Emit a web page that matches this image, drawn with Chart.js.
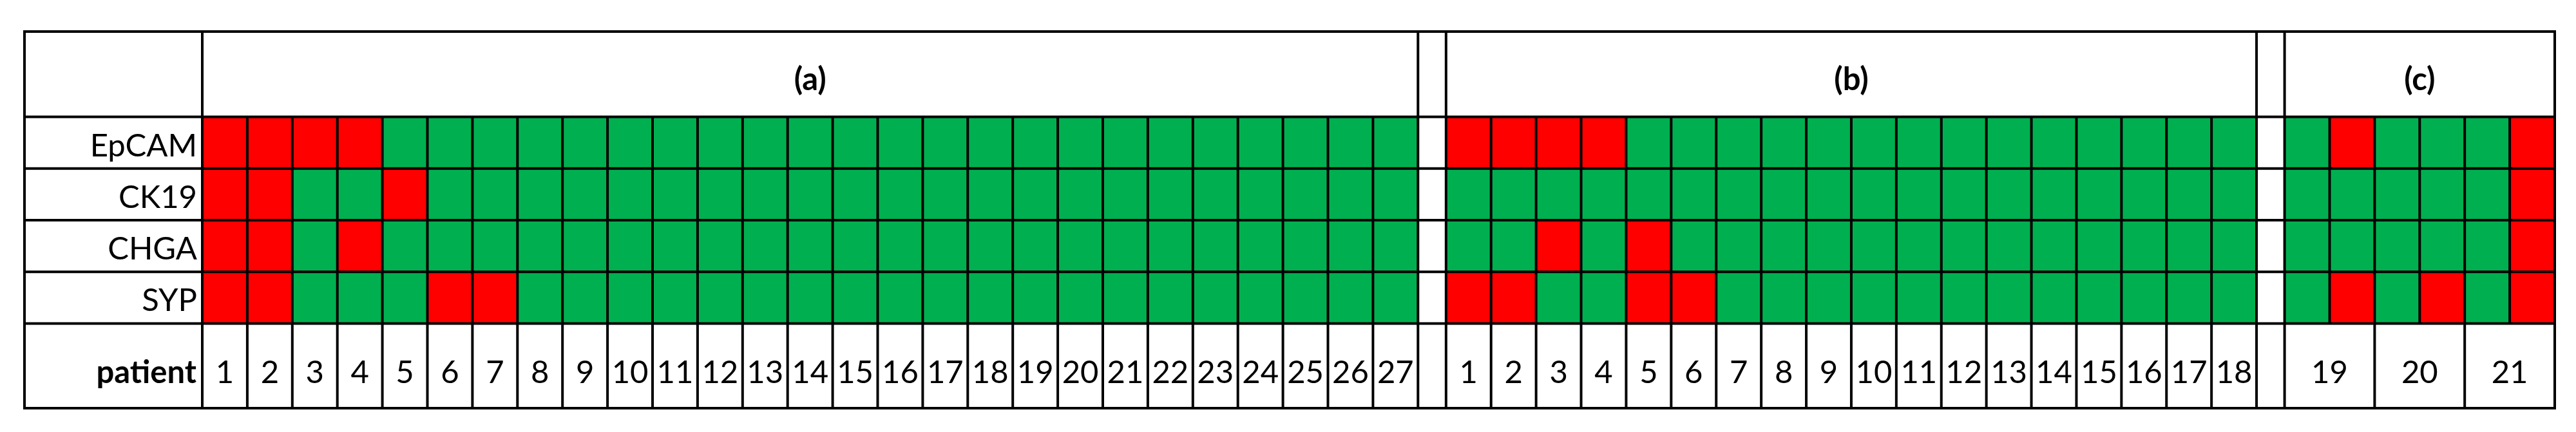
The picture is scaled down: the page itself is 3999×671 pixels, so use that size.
<!DOCTYPE html>
<html><head><meta charset="utf-8">
<script src="https://cdn.jsdelivr.net/npm/chart.js@4.4.1/dist/chart.umd.min.js"></script>
<style>html,body{margin:0;padding:0;background:#fff;overflow:hidden}canvas{display:block}</style>
</head><body>
<canvas id="c" width="3999" height="671"></canvas>
<script>
// ---------- data ----------
const markers = ['EpCAM', 'CK19', 'CHGA', 'SYP'];
const groupLabels = ['(a)', '(b)', '(c)'];
const rowHeaderLabel = 'patient';

const patientsA = [1,2,3,4,5,6,7,8,9,10,11,12,13,14,15,16,17,18,19,20,21,22,23,24,25,26,27];
const patientsB = [1,2,3,4,5,6,7,8,9,10,11,12,13,14,15,16,17,18];
const patientsC = [19,20,21];
const samplesPerPatientA = 1;
const samplesPerPatientB = 1;
const samplesPerPatientC = 2;

// 1 = green cell, 0 = red cell
const epcamA = [0,0,0,0,1,1,1,1,1,1,1,1,1,1,1,1,1,1,1,1,1,1,1,1,1,1,1];
const ck19A  = [0,0,1,1,0,1,1,1,1,1,1,1,1,1,1,1,1,1,1,1,1,1,1,1,1,1,1];
const chgaA  = [0,0,1,0,1,1,1,1,1,1,1,1,1,1,1,1,1,1,1,1,1,1,1,1,1,1,1];
const sypA   = [0,0,1,1,1,0,0,1,1,1,1,1,1,1,1,1,1,1,1,1,1,1,1,1,1,1,1];

const epcamB = [0,0,0,0,1,1,1,1,1,1,1,1,1,1,1,1,1,1];
const ck19B  = [1,1,1,1,1,1,1,1,1,1,1,1,1,1,1,1,1,1];
const chgaB  = [1,1,0,1,0,1,1,1,1,1,1,1,1,1,1,1,1,1];
const sypB   = [0,0,1,1,0,0,1,1,1,1,1,1,1,1,1,1,1,1];

const epcamC = [1,0,1,1,1,0];
const ck19C  = [1,1,1,1,1,0];
const chgaC  = [1,1,1,1,1,0];
const sypC   = [1,0,1,0,1,0];

// ---------- style / layout ----------
const RED = '#FF0000', GREEN = '#00B050';
const LINE = 4;
const GAP = 0.623;              // width of blank separator column (in cell units)
const TABLE_LEFT = 38, TABLE_TOP = 49, TABLE_BOTTOM_MARGIN = 37, RIGHT_MARGIN = 33;
const LABEL_COL = 276, HEADER_H = 132.5, PATIENT_H = 131.5;
const FONT = 'Lato, "Open Sans", sans-serif';
const FS = 49;

// ---------- build ----------
const groups = [
  {label: groupLabels[0], patients: patientsA, span: samplesPerPatientA, status: [epcamA, ck19A, chgaA, sypA]},
  {label: groupLabels[1], patients: patientsB, span: samplesPerPatientB, status: [epcamB, ck19B, chgaB, sypB]},
  {label: groupLabels[2], patients: patientsC, span: samplesPerPatientC, status: [epcamC, ck19C, chgaC, sypC]},
];
let cursor = 0;
groups.forEach((g, i) => {
  g.nCols = g.patients.length * g.span;
  g.start = cursor;
  cursor += g.nCols + (i < groups.length - 1 ? GAP : 0);
});
const totalUnits = cursor;

const datasets = markers.map((m, r) => {
  const data = [];
  groups.forEach(g => {
    for (let j = 0; j < g.nCols; j++) {
      data.push({x: [g.start + j, g.start + j + 1], y: m, s: g.status[r][j]});
    }
  });
  return {
    label: m,
    data,
    backgroundColor: data.map(d => d.s ? GREEN : RED),
    borderWidth: 0,
    barPercentage: 1,
    categoryPercentage: 1,
    grouped: false,
  };
});

const tablePlugin = {
  id: 'table',
  afterDatasetsDraw(chart) {
    const {ctx, chartArea: a, scales: {x, y}} = chart;
    const L = TABLE_LEFT, T = TABLE_TOP, R = a.right, B = a.bottom + PATIENT_H;
    ctx.save();
    ctx.strokeStyle = '#000';
    ctx.lineWidth = LINE;
    const line = (x1, y1, x2, y2) => { ctx.beginPath(); ctx.moveTo(x1, y1); ctx.lineTo(x2, y2); ctx.stroke(); };

    // horizontal row boundaries
    const rowH = (a.bottom - a.top) / markers.length;
    for (let i = 0; i <= markers.length; i++) line(L, a.top + i * rowH, R, a.top + i * rowH);
    // label column boundary
    line(a.left, T, a.left, B);

    ctx.fillStyle = '#000';
    ctx.textBaseline = 'alphabetic';
    groups.forEach(g => {
      const x0 = x.getPixelForValue(g.start), x1 = x.getPixelForValue(g.start + g.nCols);
      line(x0, T, x0, B);
      line(x1, T, x1, B);
      for (let j = 1; j < g.nCols; j++) {
        const xx = x.getPixelForValue(g.start + j);
        line(xx, a.top, xx, (j % g.span === 0) ? B : a.bottom);
      }
      // group header
      ctx.font = `bold ${FS}px ${FONT}`;
      ctx.textAlign = 'center';
      ctx.fillText(g.label, (x0 + x1) / 2, T + 91);
      // patient numbers
      ctx.font = `${FS}px ${FONT}`;
      g.patients.forEach((p, k) => {
        const cx = x.getPixelForValue(g.start + k * g.span + g.span / 2);
        ctx.fillText(String(p), cx, a.bottom + 92.5);
      });
    });

    // marker labels
    ctx.textAlign = 'right';
    ctx.font = `${FS}px ${FONT}`;
    markers.forEach(m => {
      ctx.fillText(m, a.left - 8, y.getPixelForValue(m) + 21);
    });
    ctx.font = `bold ${FS}px ${FONT}`;
    ctx.fillText(rowHeaderLabel, a.left - 9, a.bottom + 92.5);

    ctx.strokeRect(L, T, R - L, B - T);
    ctx.restore();
  }
};

new Chart(document.getElementById('c'), {
  type: 'bar',
  data: {labels: markers, datasets},
  options: {
    indexAxis: 'y',
    responsive: false,
    animation: false,
    devicePixelRatio: 1,
    layout: {padding: {
      left: TABLE_LEFT + LABEL_COL,
      right: RIGHT_MARGIN,
      top: TABLE_TOP + HEADER_H,
      bottom: TABLE_BOTTOM_MARGIN + PATIENT_H
    }},
    plugins: {legend: {display: false}, tooltip: {enabled: false}, title: {display: false}},
    scales: {
      x: {type: 'linear', min: 0, max: totalUnits, display: false},
      y: {type: 'category', labels: markers, offset: true, display: false}
    }
  },
  plugins: [tablePlugin]
});
</script>
</body></html>
